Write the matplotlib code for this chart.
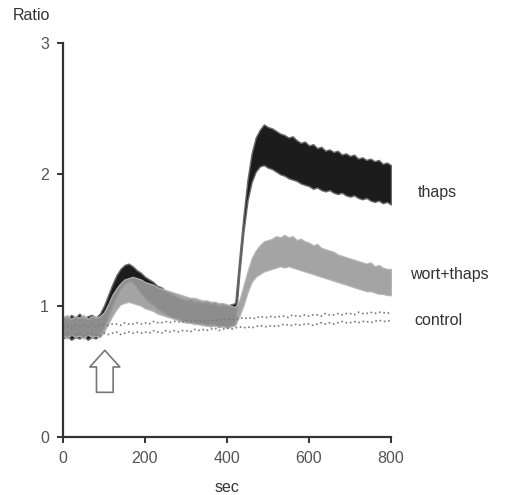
import numpy as np
import matplotlib
matplotlib.use("Agg")
import matplotlib.pyplot as plt

plt.rcParams["font.family"] = ["Liberation Sans", "DejaVu Sans"]

# time axis, one reading every 10 s
t = np.arange(0, 801, 10)

# thaps: upper / lower edge of the noisy trace
thaps_hi = [0.92, 0.90, 0.93, 0.91, 0.94, 0.90, 0.92, 0.93, 0.91, 0.94,
            1.00, 1.08, 1.16, 1.23, 1.28, 1.31, 1.32, 1.30, 1.27, 1.25,
            1.22, 1.20, 1.18, 1.15, 1.14, 1.11, 1.10, 1.08, 1.06, 1.05,
            1.04, 1.05, 1.03, 1.03, 1.02, 1.03, 1.01, 1.02, 1.00, 1.01,
            1.00, 1.01, 1.02, 1.36, 1.68, 1.96, 2.16, 2.28, 2.34, 2.38,
            2.36, 2.35, 2.33, 2.31, 2.30, 2.28, 2.29, 2.26, 2.24, 2.25,
            2.22, 2.23, 2.20, 2.21, 2.18, 2.19, 2.17, 2.18, 2.15, 2.16,
            2.14, 2.15, 2.12, 2.13, 2.11, 2.12, 2.10, 2.11, 2.08, 2.09,
            2.07]
thaps_lo = [0.75, 0.77, 0.74, 0.76, 0.75, 0.77, 0.74, 0.76, 0.75, 0.78,
            0.84, 0.92, 1.00, 1.07, 1.13, 1.17, 1.19, 1.18, 1.14, 1.10,
            1.06, 1.03, 1.01, 0.98, 0.96, 0.94, 0.92, 0.91, 0.90, 0.89,
            0.88, 0.87, 0.88, 0.86, 0.87, 0.85, 0.86, 0.85, 0.84, 0.85,
            0.84, 0.85, 0.86, 1.24, 1.56, 1.80, 1.94, 2.02, 2.06, 2.07,
            2.05, 2.04, 2.02, 2.00, 1.99, 1.97, 1.96, 1.95, 1.93, 1.92,
            1.91, 1.89, 1.90, 1.88, 1.87, 1.88, 1.86, 1.85, 1.86, 1.84,
            1.83, 1.84, 1.82, 1.81, 1.82, 1.80, 1.79, 1.80, 1.78, 1.79,
            1.77]

# wort+thaps
wort_hi = [0.91, 0.93, 0.90, 0.92, 0.91, 0.93, 0.90, 0.92, 0.91, 0.92,
           0.95, 1.01, 1.08, 1.13, 1.17, 1.20, 1.21, 1.22, 1.21, 1.20,
           1.18, 1.17, 1.16, 1.14, 1.13, 1.12, 1.11, 1.10, 1.09, 1.08,
           1.07, 1.06, 1.06, 1.05, 1.04, 1.04, 1.03, 1.03, 1.02, 1.02,
           1.01, 1.00, 0.99, 1.04, 1.15, 1.26, 1.36, 1.42, 1.46, 1.49,
           1.50, 1.51, 1.53, 1.52, 1.54, 1.52, 1.53, 1.50, 1.51, 1.49,
           1.48, 1.46, 1.47, 1.44, 1.43, 1.42, 1.41, 1.39, 1.38, 1.37,
           1.36, 1.35, 1.34, 1.33, 1.32, 1.33, 1.30, 1.31, 1.29, 1.28,
           1.28]
wort_lo = [0.77, 0.75, 0.78, 0.76, 0.77, 0.75, 0.78, 0.76, 0.77, 0.76,
           0.80, 0.86, 0.92, 0.97, 1.01, 1.02, 1.03, 1.02, 1.01, 1.00,
           0.98, 0.97, 0.96, 0.94, 0.93, 0.92, 0.91, 0.90, 0.89, 0.88,
           0.87, 0.87, 0.86, 0.86, 0.85, 0.85, 0.84, 0.85, 0.84, 0.84,
           0.83, 0.84, 0.85, 0.92, 1.00, 1.10, 1.18, 1.22, 1.24, 1.26,
           1.27, 1.28, 1.29, 1.30, 1.29, 1.30, 1.29, 1.28, 1.27, 1.26,
           1.25, 1.24, 1.23, 1.22, 1.21, 1.20, 1.19, 1.18, 1.17, 1.16,
           1.15, 1.14, 1.13, 1.12, 1.11, 1.11, 1.10, 1.09, 1.09, 1.08,
           1.08]

# control
control_hi = [0.84, 0.85, 0.83, 0.85, 0.84, 0.85, 0.84, 0.86, 0.84, 0.85,
              0.86, 0.85, 0.86, 0.86, 0.85, 0.87, 0.86, 0.86, 0.87, 0.86,
              0.87, 0.86, 0.88, 0.87, 0.87, 0.88, 0.87, 0.88, 0.88, 0.87,
              0.89, 0.88, 0.88, 0.89, 0.88, 0.89, 0.89, 0.88, 0.90, 0.89,
              0.90, 0.89, 0.90, 0.90, 0.91, 0.90, 0.91, 0.90, 0.92, 0.91,
              0.91, 0.92, 0.91, 0.92, 0.92, 0.91, 0.93, 0.92, 0.92, 0.93,
              0.92, 0.93, 0.93, 0.92, 0.94, 0.93, 0.93, 0.94, 0.93, 0.94,
              0.94, 0.93, 0.95, 0.94, 0.94, 0.95, 0.94, 0.95, 0.95, 0.94,
              0.95]
control_lo = [0.78, 0.79, 0.77, 0.78, 0.79, 0.77, 0.78, 0.79, 0.78, 0.77,
              0.79, 0.78, 0.79, 0.80, 0.78, 0.79, 0.80, 0.79, 0.80, 0.79,
              0.80, 0.79, 0.81, 0.80, 0.79, 0.81, 0.80, 0.81, 0.80, 0.81,
              0.81, 0.80, 0.82, 0.81, 0.82, 0.81, 0.82, 0.83, 0.81, 0.82,
              0.83, 0.82, 0.83, 0.84, 0.83, 0.84, 0.83, 0.84, 0.85, 0.84,
              0.84, 0.85, 0.84, 0.85, 0.86, 0.85, 0.85, 0.86, 0.85, 0.86,
              0.86, 0.85, 0.86, 0.87, 0.86, 0.87, 0.86, 0.87, 0.88, 0.87,
              0.87, 0.88, 0.87, 0.88, 0.88, 0.87, 0.88, 0.89, 0.88, 0.88,
              0.89]

labels = ["thaps", "wort+thaps", "control"]
label_pos = [(866, 1.865), (846, 1.24), (858, 0.89)]
stim_time = 102

fig = plt.figure(figsize=(5.13, 4.95), dpi=100)
ax = fig.add_axes([0.1228, 0.1172, 0.6394, 0.7959])

ax.fill_between(t, thaps_lo, thaps_hi, facecolor="#1c1c1c",
                edgecolor="#6a6a6a", linewidth=1.0)
ax.fill_between(t, wort_lo, wort_hi, facecolor="#9a9a9a",
                edgecolor="#b4b4b4", linewidth=0.9, alpha=0.9)
ax.plot(t, control_hi, color="#7a7a7a", linestyle=":", linewidth=1.2)
ax.plot(t, control_lo, color="#7a7a7a", linestyle=":", linewidth=1.2)

# stimulus arrow
ax.annotate("", xy=(stim_time, 0.66), xytext=(stim_time, 0.34),
            arrowprops=dict(arrowstyle="simple,head_length=1.0,head_width=1.8,tail_width=1.0",
                            mutation_scale=12, fc="white", ec="#777777", lw=1.2,
                            shrinkA=0, shrinkB=0))

for lab, (x, y) in zip(labels, label_pos):
    ax.text(x, y, lab, fontsize=11.5, color="#333333", va="center", clip_on=False)

ax.set_xlim(0, 800)
ax.set_ylim(0, 3)
ax.set_xticks([0, 200, 400, 600, 800])
ax.set_yticks([0, 1, 2, 3])
for side in ["top", "right"]:
    ax.spines[side].set_visible(False)
for side in ["left", "bottom"]:
    ax.spines[side].set_linewidth(1.6)
    ax.spines[side].set_color("#333333")
ax.tick_params(direction="out", length=4, width=1.4, color="#333333",
               labelsize=11.5, labelcolor="#555555", pad=6)

fig.text(13 / 513, 1 - 15 / 495, "Ratio", fontsize=11.5, color="#333333", va="center")
fig.text(227 / 513, 1 - 487 / 495, "sec", fontsize=11.5, color="#333333",
         ha="center", va="center")

fig.savefig("out.png", dpi=100)
